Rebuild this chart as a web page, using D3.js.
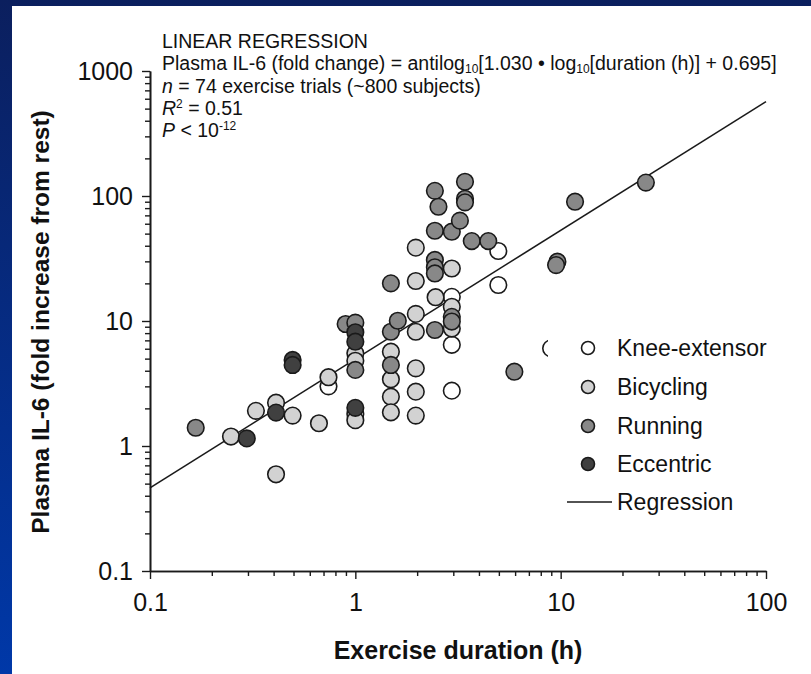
<!DOCTYPE html>
<html><head><meta charset="utf-8">
<script src="https://cdn.jsdelivr.net/npm/d3@7"></script>
<style>html,body{margin:0;padding:0;overflow:hidden;background:#0a2a7a}</style>
</head><body>
<script>
// ---------- data (duration h, fold increase) ----------
const categories = ["Knee-extensor", "Bicycling", "Running", "Eccentric"];
const kneeExtensor = [[0.74,3.0],[1.0,1.8],[2.95,15.6],[2.95,6.45],[2.95,2.77],[4.97,36.3],[4.97,19.4],[8.98,6.04]];
const bicycling = [[0.248,1.19],[0.328,1.91],[0.411,2.22],[0.411,0.594],[0.495,1.75],[0.665,1.52],[0.74,3.55],
  [1.0,5.51],[1.0,4.81],[1.0,1.61],[1.49,5.68],[1.49,3.42],[1.49,2.48],[1.49,1.86],
  [1.97,38.6],[1.97,20.9],[1.97,11.4],[1.97,8.2],[1.97,4.18],[1.97,2.72],[1.97,1.75],
  [2.46,15.5],[2.95,26.3],[2.95,13.0],[2.95,8.7]];
const running = [[0.167,1.40],[0.897,9.46],[1.0,9.7],[1.0,4.06],[1.49,8.2],[1.49,4.45],[1.49,20.0],[1.61,10.05],
  [2.44,8.47],[2.44,110],[2.54,82],[2.44,52.7],[2.44,30.8],[2.44,26.9],[2.44,24],
  [2.95,51.8],[2.95,10.8],[2.95,9.9],[3.23,63.5],[3.42,130],[3.42,95],[3.42,89],
  [3.69,43.6],[4.44,43.6],[5.95,3.93],[9.64,29.8],[9.5,28],[11.75,90],[26.0,128]];
const eccentric = [[0.296,1.15],[0.411,1.85],[0.495,4.88],[0.495,4.45],[1.0,8.12],[1.0,6.83],[1.0,2.02]];
const seriesData = [kneeExtensor, bicycling, running, eccentric];
const fillColors = ["#ffffff", "#d2d2d2", "#888888", "#404040"];
const regSlope = 1.030, regIntercept = 0.695;
const xTicks = [0.1, 1, 10, 100];
const xTickLabels = ["0.1", "1", "10", "100"];
const yTicks = [0.1, 1, 10, 100, 1000];
const yTickLabels = ["0.1", "1", "10", "100", "1000"];

const W = 811, H = 674;
const svg = d3.select("body").append("svg").attr("width", W).attr("height", H)
  .style("display","block").style("font-family","'Liberation Sans', Arial, sans-serif");
const defs = svg.append("defs");
const grad = defs.append("linearGradient").attr("id","bg").attr("x1",0).attr("y1",0).attr("x2",0).attr("y2",1);
grad.append("stop").attr("offset","0%").attr("stop-color","#0b1f5e");
grad.append("stop").attr("offset","100%").attr("stop-color","#0038a8");
svg.append("rect").attr("width",W).attr("height",H).attr("fill","url(#bg)");
svg.append("rect").attr("x",12).attr("y",6).attr("width",W-12).attr("height",H-6).attr("fill","#fff");

const x = d3.scaleLog().domain([0.1, 100]).range([150, 766]);
const y = d3.scaleLog().domain([0.1, 1000]).range([571, 71]);
const ink = "#1a1a1a";

// minor ticks
function minors(dom) {
  const out = [];
  for (let e = Math.log10(dom[0]); e < Math.log10(dom[1]); e++)
    for (let m = 2; m <= 9; m++) out.push(m * Math.pow(10, e));
  return out;
}
const gx = svg.append("g").attr("transform", "translate(0,571)");
gx.call(d3.axisBottom(x).tickValues(xTicks).tickFormat((d,i)=>xTickLabels[i]).tickSize(8).tickSizeOuter(0));
gx.append("g").call(d3.axisBottom(x).tickValues(minors([0.1,100])).tickFormat("").tickSize(5).tickSizeOuter(0));
const gy = svg.append("g").attr("transform", "translate(150,0)");
gy.call(d3.axisLeft(y).tickValues(yTicks).tickFormat((d,i)=>yTickLabels[i]).tickSize(8).tickSizeOuter(0));
gy.append("g").call(d3.axisLeft(y).tickValues(minors([0.1,1000])).tickFormat("").tickSize(5).tickSizeOuter(0));
svg.selectAll(".domain").attr("stroke", ink).attr("stroke-width", 1.6);
svg.selectAll(".tick line").attr("stroke", ink).attr("stroke-width", 1.4);
gx.selectAll(".tick text").attr("font-size", 25).attr("fill", "#111").attr("dy", "0.71em").attr("y", 22)
  .style("font-family","'Liberation Sans', Arial, sans-serif");
gy.selectAll(".tick text").attr("font-size", 25).attr("fill", "#111").attr("x", -17)
  .style("font-family","'Liberation Sans', Arial, sans-serif");

// regression line
const regX = [0.1, 100];
svg.append("path").datum(regX)
  .attr("d", d3.line().x(d => x(d)).y(d => y(Math.pow(10, regSlope * Math.log10(d) + regIntercept))))
  .attr("stroke", ink).attr("stroke-width", 1.6).attr("fill", "none");

// points
seriesData.forEach((arr, si) => {
  svg.append("g").selectAll("circle").data(arr).join("circle")
    .attr("cx", d => x(d[0])).attr("cy", d => y(d[1])).attr("r", 8.3)
    .attr("fill", fillColors[si]).attr("stroke", ink).attr("stroke-width", 1.6);
});

// legend
const lg = svg.append("g");
lg.append("rect").attr("x", 548).attr("y", 330).attr("width", 245).attr("height", 185).attr("fill", "#fff");
const rowY = [348, 387, 426, 464, 502];
categories.forEach((c, i) => {
  lg.append("circle").attr("cx", 588).attr("cy", rowY[i]).attr("r", 6.5)
    .attr("fill", fillColors[i]).attr("stroke", ink).attr("stroke-width", 1.6);
  lg.append("text").attr("x", 617).attr("y", rowY[i] + 8).attr("font-size", 23).attr("fill", "#111").text(c);
});
lg.append("line").attr("x1", 567).attr("x2", 612).attr("y1", rowY[4]).attr("y2", rowY[4])
  .attr("stroke", ink).attr("stroke-width", 1.6);
lg.append("text").attr("x", 617).attr("y", rowY[4] + 8).attr("font-size", 23).attr("fill", "#111").text("Regression");

// annotation
const ann = svg.append("g").attr("font-size", 19.5).attr("fill", "#111");
ann.append("text").attr("x", 162).attr("y", 48).text("LINEAR REGRESSION");
const t2 = ann.append("text").attr("x", 162).attr("y", 70);
t2.append("tspan").text("Plasma IL-6 (fold change) = antilog");
t2.append("tspan").attr("font-size", 12).attr("dy", 3).text("10");
t2.append("tspan").attr("dy", -3).text("[1.030 \u2022 log");
t2.append("tspan").attr("font-size", 12).attr("dy", 3).text("10");
t2.append("tspan").attr("dy", -3).text("[duration (h)] + 0.695]");
const t3 = ann.append("text").attr("x", 162).attr("y", 92.5);
t3.append("tspan").attr("font-style", "italic").text("n");
t3.append("tspan").text(" = 74 exercise trials (~800 subjects)");
const t4 = ann.append("text").attr("x", 162).attr("y", 114.5);
t4.append("tspan").attr("font-style", "italic").text("R");
t4.append("tspan").attr("font-size", 12).attr("dy", -7).text("2");
t4.append("tspan").attr("dy", 7).text(" = 0.51");
const t5 = ann.append("text").attr("x", 162).attr("y", 136.5);
t5.append("tspan").attr("font-style", "italic").text("P");
t5.append("tspan").text(" < 10");
t5.append("tspan").attr("font-size", 12).attr("dy", -7).text("-12");

// axis titles
svg.append("text").attr("x", 458).attr("y", 659).attr("text-anchor", "middle")
  .attr("font-size", 25).attr("font-weight", "bold").attr("fill", "#111").text("Exercise duration (h)");
svg.append("text").attr("transform", "translate(49,322) rotate(-90)").attr("text-anchor", "middle")
  .attr("font-size", 24.5).attr("font-weight", "bold").attr("fill", "#111").text("Plasma IL-6 (fold increase from rest)");
</script>
</body></html>
